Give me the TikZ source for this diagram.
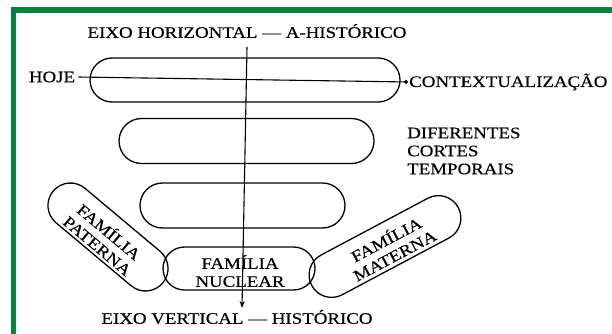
\documentclass[tikz,border=0pt]{standalone}
\usepackage{fontspec}
\setmainfont[FakeStretch=1.18,FakeBold=0.4]{Liberation Serif}
\usetikzlibrary{shapes.misc,arrows.meta}
\definecolor{framegreen}{RGB}{0,133,62}
\tikzset{
  capsule/.style={draw, rounded rectangle, line width=1.3pt, inner sep=0pt},
  lbl/.style={inner sep=0pt, font=\fontsize{16}{18}\selectfont, align=center},
  axis/.style={line width=1.1pt}
}
\begin{document}
\begin{tikzpicture}[x=1pt,y=-1pt]
\useasboundingbox (0,0) rectangle (612,334);
\fill[white] (0,0) rectangle (612,334);
\fill[framegreen] (11,7) rectangle (612,13);
\fill[framegreen] (11,7) rectangle (16,334);

% capsules
\node[capsule, minimum width=310pt, minimum height=44pt] (c1) at (245,80) {};
\node[capsule, minimum width=255pt, minimum height=45pt] (c2) at (246.5,141) {};
\node[capsule, minimum width=205pt, minimum height=45pt] (c3) at (242.5,205.5) {};
\node[capsule, minimum width=152pt, minimum height=43pt] (nuc) at (239,268.5) {};
\node[capsule, minimum width=143pt, minimum height=45pt, rotate=-40] (pat) at (108,237) {};
\node[capsule, minimum width=166pt, minimum height=45pt, rotate=28] (mat) at (385,246.5) {};

% labels
\node[lbl] (th) at (247,31) {EIXO HORIZONTAL — A-HISTÓRICO};
\node[lbl] (hoje) at (52,77) {HOJE};
\node[lbl, anchor=west] (ctx) at (409,82) {CONTEXTUALIZAÇÃO};
\node[lbl, anchor=west, align=left] (dif) at (407,151) {DIFERENTES\\CORTES\\TEMPORAIS};
\node[lbl] (tnuc) at (240,271) {FAMÍLIA\\NUCLEAR};
\node[lbl, rotate=-40] (tpat) at (104,238) {FAMÍLIA\\PATERNA};
\node[lbl, rotate=28] (tmat) at (390,246.5) {FAMÍLIA\\MATERNA};
\node[lbl] (tv) at (237,317) {EIXO VERTICAL — HISTÓRICO};

% axes
\coordinate (vtop) at (247,47);
\coordinate (vbot) at (242,308);
\draw[axis, -{Circle[length=4pt]}] ([xshift=3pt]hoje.east) -- ([xshift=-1pt]ctx.west);
\draw[axis, -{Stealth[length=7pt,width=5pt]}] (vtop) -- (vbot);
\end{tikzpicture}
\end{document}
